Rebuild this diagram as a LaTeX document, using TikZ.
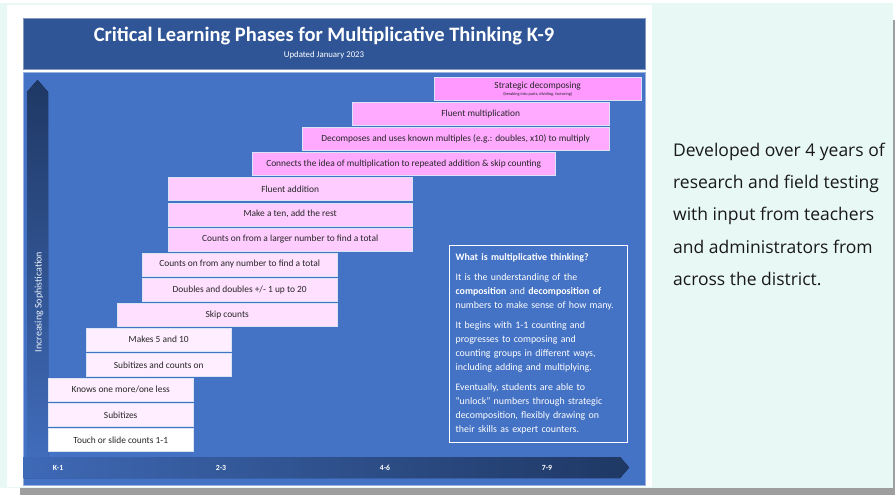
\documentclass[tikz,border=0pt]{standalone}
\usepackage{fontspec}
\setmainfont{Carlito}
\newfontfamily\notefont{Open Sans}
\usetikzlibrary{positioning}
\definecolor{panelblue}{RGB}{68, 114, 196}
\definecolor{titleblue}{RGB}{47, 85, 151}
\definecolor{navyblue}{RGB}{31, 56, 100}
\definecolor{mintbg}{RGB}{232, 248, 245}
\definecolor{shadowgray}{RGB}{158, 158, 158}
\definecolor{stratpink}{RGB}{255, 153, 255}
\definecolor{multpink}{RGB}{255, 170, 255}
\definecolor{addpink}{RGB}{255, 204, 255}
\definecolor{countpink}{RGB}{255, 224, 255}
\definecolor{earlypink}{RGB}{255, 238, 255}

\begin{document}
\begin{tikzpicture}[
    x=1pt, y=-1pt,
    phase/.style={rectangle, draw=white!80!panelblue, line width=0.4pt, anchor=north west, minimum height=23pt, inner sep=0pt, align=center, font=\fontsize{9.4}{10}\selectfont, text=black!85},
    grade/.style={font=\bfseries\fontsize{7.8}{8}\selectfont, text=white},
    infobox/.style={rectangle, draw=white, line width=1.2pt, anchor=north west, text width=166pt, minimum height=197pt, inner sep=6pt, align=left, font=\fontsize{9.9}{14}\selectfont, text=white}
]
\useasboundingbox (0,0) rectangle (895,495);

% Card with shadow
\fill[shadowgray] (20,20) rectangle (900,500);
\fill[mintbg] (0,3) rectangle (893,488);
\fill[white] (7,5) rectangle (652,487);

% Title bar and main panel
\filldraw[fill=titleblue, draw=titleblue!60!white, line width=0.8pt] (23,18) rectangle (645,69);
\filldraw[fill=panelblue, draw=panelblue!55!white, line width=1pt] (23,73) rectangle (645,485);

\node[font=\bfseries\fontsize{20.5}{24}\selectfont, text=white] (title) at (324,36) {Critical Learning Phases for Multiplicative Thinking K-9};
\node[font=\fontsize{8.8}{10}\selectfont, text=white, below=-1pt of title] (updated) {Updated January 2023};

% Axes
\fill[top color=navyblue, bottom color=panelblue!90!navyblue] (27,92) -- (37.5,80) -- (48,92) -- (48,457) -- (27,457) -- cycle;
\fill[left color=panelblue!85!navyblue, right color=navyblue] (23,457) -- (620,457) -- (629,467.5) -- (620,478) -- (23,478) -- cycle;
\node[rotate=90, font=\fontsize{10}{12}\selectfont, text=white!90!panelblue] (sophistication) at (39,302) {Increasing Sophistication};

\node[grade] (gk) at (58,468) {K-1};
\node[grade] (g2) at (221,468) {2-3};
\node[grade] (g4) at (385,468) {4-6};
\node[grade] (g7) at (547,468) {7-9};

% Multiplication phases
\node[phase, fill=stratpink, minimum width=207pt] (strategic) at (434,77) {Strategic decomposing\\[-3pt]{\fontsize{4.3}{5}\selectfont (breaking into parts, dividing, factoring)}};
\node[phase, fill=multpink, minimum width=257pt] (fluentmult) at (352,102.1) {Fluent multiplication};
\node[phase, fill=multpink, minimum width=307pt] (knownmult) at (302,127.2) {Decomposes and uses known multiples (e.g.: doubles, x10) to multiply};
\node[phase, fill=multpink, minimum width=303pt] (repeated) at (252,152.3) {Connects the idea of multiplication to repeated addition \& skip counting};

% Addition phases
\node[phase, fill=addpink, minimum width=244pt] (fluentadd) at (168,177.4) {Fluent addition};
\node[phase, fill=addpink, minimum width=244pt] (maketen) at (168,202.5) {Make a ten, add the rest};
\node[phase, fill=addpink, minimum width=244pt] (countlarger) at (168,227.6) {Counts on from a larger number to find a total};

% Counting phases
\node[phase, fill=countpink, minimum width=195pt] (countany) at (142,252.7) {Counts on from any number to find a total};
\node[phase, fill=countpink, minimum width=195pt] (doubles) at (142,277.8) {Doubles and doubles +/- 1 up to 20};
\node[phase, fill=countpink, minimum width=220pt] (skip) at (117,302.9) {Skip counts};
\node[phase, fill=earlypink, minimum width=145pt] (makesfive) at (86,328) {Makes 5 and 10};
\node[phase, fill=earlypink, minimum width=145pt] (subcount) at (86,353.1) {Subitizes and counts on};
\node[phase, fill=earlypink, minimum width=145pt] (onemore) at (48,378.2) {Knows one more/one less};
\node[phase, fill=earlypink, minimum width=145pt] (subitizes) at (48,403.3) {Subitizes};
\node[phase, fill=white, minimum width=145pt] (touch) at (48,428.4) {Touch or slide counts 1-1};

% What is multiplicative thinking
\node[infobox] (whatis) at (449,245) {\raggedright
{\bfseries What is multiplicative thinking?}\par\vspace{6pt}
It is the understanding of the\\
{\bfseries composition} and {\bfseries decomposition of}\\
numbers to make sense of how many.\par\vspace{6pt}
It begins with 1-1 counting and\\
progresses to composing and\\
counting groups in different ways,\\
including adding and multiplying.\par\vspace{6pt}
Eventually, students are able to\\
``unlock'' numbers through strategic\\
decomposition, flexibly drawing on\\
their skills as expert counters.};

% Side note
\node[anchor=north west, inner sep=0pt, align=left, font=\notefont\fontsize{17.5}{32.2}\selectfont, text=black!90] (devnote) at (673,143) {Developed over 4 years of\\research and field testing\\with input from teachers\\and administrators from\\across the district.};

\end{tikzpicture}
\end{document}
